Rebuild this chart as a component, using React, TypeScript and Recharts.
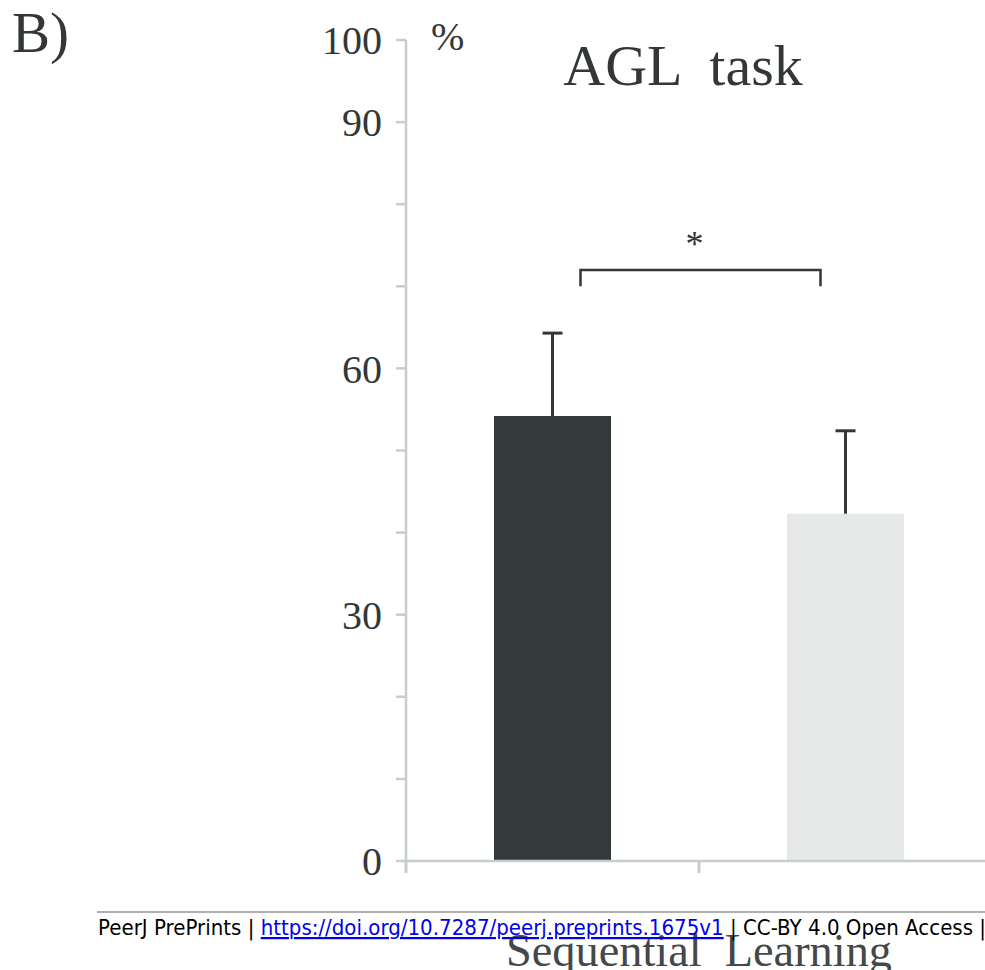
import { BarChart, Bar, XAxis, YAxis, Cell } from "recharts";

// values
const groups = ["Group 1", "Group 2"];
const means = [54.2, 42.3];
const errors = [10.1, 10.1];
const barColors = ["#343939", "#e6e9e8"];
const yTicks = [0, 10, 20, 30, 40, 50, 60, 70, 80, 90, 100];
const yLabelled = [0, 30, 60, 90, 100];

const data = groups.map((g, i) => ({ name: g, mean: means[i], err: errors[i] }));

// layout
const CHART_W = 992;
const CHART_H = 970;
const PLOT_LEFT = 406;
const PLOT_TOP = 40;
const PLOT_BOTTOM = 861;
const XAXIS_H = 30;
const PLOT_H = PLOT_BOTTOM - PLOT_TOP;
const BAND = (CHART_W - PLOT_LEFT) / groups.length;
const AXIS = "#c6cfcd";
const INK = "#333737";
const SERIF = "'Liberation Serif', 'Times New Roman', serif";

const yPos = (v: number) => PLOT_TOP + (1 - v / 100) * PLOT_H;
const centerX = (i: number) => PLOT_LEFT + BAND * (i + 0.5);

const ErrorShape = (props: any) => {
  const { x, y, width, height } = props;
  const cx = x + width / 2;
  return (
    <g stroke={INK} strokeWidth={3}>
      <line x1={cx} y1={y + height} x2={cx} y2={y} />
      <line x1={cx - 10} y1={y} x2={cx + 10} y2={y} />
    </g>
  );
};

const XTick = (props: any) => {
  const { x } = props;
  const bx = x - BAND / 2;
  return (
    <line x1={bx} y1={PLOT_BOTTOM} x2={bx} y2={PLOT_BOTTOM + 12} stroke={AXIS} strokeWidth={3} />
  );
};

export default function App() {
  const bl = centerX(0) + 28;
  const br = centerX(1) - 25;
  return (
    <div
      style={{
        position: "absolute",
        left: 0,
        top: 0,
        width: 985,
        height: 970,
        overflow: "hidden",
        background: "#fff",
      }}
    >
      <BarChart
        width={CHART_W}
        height={CHART_H}
        data={data}
        margin={{ top: PLOT_TOP, right: 0, left: 0, bottom: CHART_H - PLOT_BOTTOM - XAXIS_H }}
      >
        <XAxis
          dataKey="name"
          height={XAXIS_H}
          stroke={AXIS}
          strokeWidth={2.5}
          tickLine={false}
          tick={<XTick />}
        />
        <YAxis
          width={PLOT_LEFT}
          domain={[0, 100]}
          ticks={yTicks}
          interval={0}
          stroke={AXIS}
          strokeWidth={2.5}
          tickSize={10}
          tickMargin={14}
          tickFormatter={(v: number) => (yLabelled.includes(v) ? String(v) : "")}
          tick={{ fill: INK, fontSize: 40, fontFamily: SERIF }}
        />
        <Bar dataKey="mean" stackId="a" barSize={117} isAnimationActive={false}>
          {data.map((d, i) => (
            <Cell key={d.name} fill={barColors[i]} />
          ))}
        </Bar>
        <Bar dataKey="err" stackId="a" barSize={117} shape={<ErrorShape />} isAnimationActive={false} />
      </BarChart>

      <svg
        width={985}
        height={970}
        style={{ position: "absolute", left: 0, top: 0, pointerEvents: "none" }}
      >
        <text x={12} y={52} fontFamily={SERIF} fontSize={57} fill={INK}>
          B)
        </text>
        <text x={431} y={50} fontFamily={SERIF} fontSize={40} fill={INK}>
          %
        </text>
        <text
          x={683}
          y={85}
          textAnchor="middle"
          fontFamily={SERIF}
          fontSize={58}
          fill={INK}
          style={{ whiteSpace: "pre" }}
        >
          AGL  task
        </text>

        {/* significance bracket */}
        <g stroke={INK} strokeWidth={2.5} fill="none">
          <polyline
            points={`${bl},${yPos(70)} ${bl},${yPos(72)} ${br},${yPos(72)} ${br},${yPos(70)}`}
          />
        </g>
        <text
          x={(bl + br) / 2 - 6}
          y={yPos(72) - 14}
          textAnchor="middle"
          fontFamily={SERIF}
          fontSize={36}
          fill={INK}
        >
          *
        </text>

        <text
          x={PLOT_LEFT + (CHART_W - PLOT_LEFT) / 2}
          y={966}
          textAnchor="middle"
          fontFamily={SERIF}
          fontSize={47}
          textLength={386}
          lengthAdjust="spacingAndGlyphs"
          fill="#444848"
          style={{ whiteSpace: "pre" }}
        >
          Sequential  Learning
        </text>

        {/* footer */}
        <line x1={97} y1={912} x2={985} y2={912} stroke="#b0b0b0" strokeWidth={2} />
        <text
          x={98}
          y={935}
          fontFamily="'DejaVu Sans', sans-serif"
          fontSize={22}
          textLength={888}
          lengthAdjust="spacingAndGlyphs"
          fill="#000"
          style={{ whiteSpace: "pre" }}
        >
          <tspan>PeerJ PrePrints | </tspan>
          <tspan fill="#0000ee" textDecoration="underline">
            https://doi.org/10.7287/peerj.preprints.1675v1
          </tspan>
          <tspan> | CC-BY 4.0 Open Access |</tspan>
        </text>
      </svg>
    </div>
  );
}
